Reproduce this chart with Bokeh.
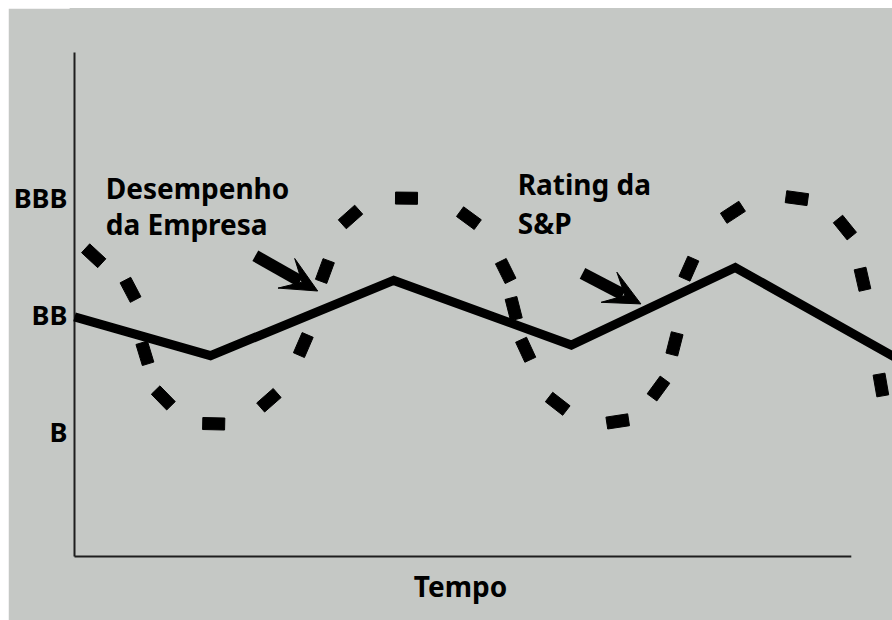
import math
from bokeh.plotting import figure
from bokeh.models import Range1d, FixedTicker
from bokeh.core.properties import value
from bokeh.embed import file_html
from bokeh.resources import INLINE

# ---------------- data ----------------
# S&P rating (solid line): time vs rating level (B=1, BB=2, BBB=3)
rating_t = [0.0, 1.70, 3.99, 6.21, 8.26, 10.40]
rating_v = [1.98, 1.65, 2.29, 1.74, 2.40, 1.58]

# company performance (dashed curve), dash centres
perf_t = [0.24, 0.70, 0.88, 1.11, 1.74, 2.43, 2.86, 3.13, 3.45, 4.15, 4.93, 5.39,
          5.49, 5.64, 6.04, 6.79, 7.30, 7.50, 7.68, 8.23, 9.03, 9.63, 9.85, 10.08]
perf_v = [2.50, 2.21, 1.67, 1.29, 1.07, 1.27, 1.74, 2.37, 2.83, 2.99, 2.82, 2.37,
          2.05, 1.70, 1.24, 1.09, 1.37, 1.75, 2.39, 2.87, 2.99, 2.74, 2.30, 1.40]

tick_values = [1, 2, 3]
tick_labels = ["B", "BB", "BBB"]

annot_texts = ["Desempenho", "da Empresa", "Rating da", "S&P"]
annot_t = [0.39, 0.39, 5.54, 5.54]
annot_v = [3.08, 2.77, 3.11, 2.78]

# arrows pointing at the lines: (start t, start v, tip t, tip v)
arrows = [(2.26, 2.50, 3.04, 2.20), (6.35, 2.35, 7.08, 2.09)]

x_title = "Tempo"

# ---------------- styling ----------------
BG = "#c5c8c5"
FONT = "Noto Sans"
PX_T = 80.0      # screen px per time unit
PX_V = 117.5     # screen px per rating level

X0, X1 = -0.05, 10.225
Y0, Y1 = -0.6043, 4.6043
AX_Y = -0.06     # level where the time axis is drawn
AX_TOP = 4.23
AX_XEND = 9.71

p = figure(width=884, height=612, output_backend="svg", toolbar_location=None,
           x_range=Range1d(X0, X1), y_range=Range1d(Y0, Y1),
           min_border_left=62, min_border_right=0, min_border_top=0,
           min_border_bottom=0,
           background_fill_color=BG, border_fill_color=BG,
           outline_line_color=BG, outline_line_width=2)
p.margin = (8, 0, 0, 8)
p.grid.visible = False
p.xaxis.visible = False

yax = p.yaxis[0]
yax.ticker = FixedTicker(ticks=tick_values)
yax.major_label_overrides = {v: l for v, l in zip(tick_values, tick_labels)}
yax.axis_line_color = None
yax.major_tick_line_color = None
yax.minor_tick_line_color = None
yax.major_tick_out = 0
yax.major_tick_in = 0
yax.minor_tick_out = 0
yax.major_label_text_font = FONT
yax.major_label_text_font_style = "bold"
yax.major_label_text_font_size = "27px"
yax.major_label_text_color = "black"
yax.major_label_standoff = 3

# axes lines
p.line([0, 0], [AX_Y, AX_TOP], line_color="#1e1e1e", line_width=2)
p.line([0, AX_XEND], [AX_Y, AX_Y], line_color="#1e1e1e", line_width=2)

# solid rating line
p.line(rating_t, rating_v, line_color="black", line_width=9, line_join="miter")

# dashed performance curve, dash orientation from neighbours
n = len(perf_t)
angles = []
for i in range(n):
    a = max(i - 1, 0)
    b = min(i + 1, n - 1)
    dx = (perf_t[b] - perf_t[a]) * PX_T
    dy = (perf_v[b] - perf_v[a]) * PX_V
    angles.append(math.atan2(dy, dx))
p.rect(perf_t, perf_v, width=22, height=12, angle=angles,
       width_units="screen", height_units="screen",
       fill_color="black", line_color="black")

# annotation texts
p.text(annot_t, annot_v, text=annot_texts, text_font=value(FONT),
       text_font_style="bold", text_font_size="28px", text_color="black",
       text_baseline="alphabetic", text_align="left")

# axis title
p.text([4.825], [-0.31], text=[x_title], text_font=value(FONT),
       text_font_style="bold", text_font_size="28px", text_color="black",
       text_baseline="alphabetic", text_align="center")

# block arrows (shaft + notched head)
HEAD_L, HEAD_W, NOTCH, SHAFT = 36, 34, 18, 12
for xs, ys, xe, ye in arrows:
    dx = (xe - xs) * PX_T
    dy = (ye - ys) * PX_V
    d = math.hypot(dx, dy)
    ux, uy = dx / d, dy / d
    nx, ny = -uy, ux
    offs = [(0, 0),
            (-HEAD_L * ux + HEAD_W / 2 * nx, -HEAD_L * uy + HEAD_W / 2 * ny),
            (-NOTCH * ux, -NOTCH * uy),
            (-HEAD_L * ux - HEAD_W / 2 * nx, -HEAD_L * uy - HEAD_W / 2 * ny)]
    hx = [xe + ox / PX_T for ox, oy in offs]
    hy = [ye + oy / PX_V for ox, oy in offs]
    p.patch(hx, hy, fill_color="black", line_color="black", line_width=1)
    p.line([xs, xe - (NOTCH + 2) * ux / PX_T], [ys, ye - (NOTCH + 2) * uy / PX_V],
           line_color="black", line_width=SHAFT, line_cap="butt")

open("out.html", "w").write(file_html(p, INLINE))
